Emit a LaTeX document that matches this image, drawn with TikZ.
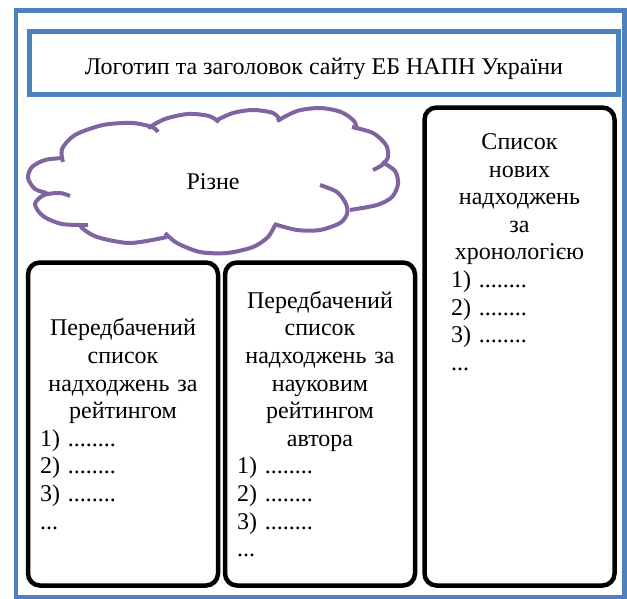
\documentclass[tikz,border=0pt]{standalone}
\usepackage{fontspec}
\setmainfont{Liberation Serif}
\usepackage{tikz}
\usetikzlibrary{positioning}
\definecolor{blue1}{RGB}{79,129,189}
\definecolor{purple1}{RGB}{128,100,162}
\tikzstyle{pageframe} = [draw=blue1, line width=4.5pt]
\tikzstyle{headbox} = [draw=blue1, fill=white, line width=4.5pt, outer sep=0pt, minimum width=589pt, minimum height=63pt, text height=27pt, text depth=4pt]
\tikzstyle{column} = [draw=black, line width=4.5pt, rounded corners=12pt, outer sep=0pt, inner sep=0pt, minimum width=190pt]
\tikzstyle{listtext} = [inner sep=0pt, text width=166pt]
\tikzstyle{puff} = [draw=purple1, line width=4pt]

\begin{document}
\begin{tikzpicture}[x=1pt, y=-1pt, font=\fontsize{24}{27.6}\selectfont]
    \useasboundingbox (0,0) rectangle (627,598);
    \draw[pageframe] (16,10.5) rectangle (624.5,597);

    \node[headbox] (head) at (324,63) {Логотип та заголовок сайту ЕБ НАПН України};

    % cloud
    \draw[puff] plot[smooth] coordinates {(63,162) (62,149) (75,135) (103,125) (132,123) (152,127) (158,132)};
    \draw[puff] plot[smooth] coordinates {(148,128) (165,119) (188,114) (209,116) (219,122)};
    \draw[puff] plot[smooth] coordinates {(215,121) (233,113) (253,110) (273,113) (281,121)};
    \draw[puff] plot[smooth] coordinates {(277,121) (297,111) (320,108) (341,112) (354,121) (357,130)};
    \draw[puff] plot[smooth] coordinates {(352,127) (373,133) (386,145) (388,157) (382,165) (373,170)};
    \draw[puff] plot[smooth] coordinates {(382,162) (395,171) (398,184) (392,197) (377,205) (350,210)};
    \draw[puff] plot[smooth] coordinates {(320,185) (337,192) (346,204) (347,214) (340,223) (320,230) (297,230) (274,224)};
    \draw[puff] plot[smooth] coordinates {(275,225) (268,237) (253,247) (227,253) (200,252) (177,243) (165,233)};
    \draw[puff] plot[smooth] coordinates {(167,237) (130,243) (97,237) (82,228) (80,224)};
    \draw[puff] plot[smooth] coordinates {(88,225) (62,224) (43,216) (35,204) (44,195) (60,193) (70,196)};
    \draw[puff] plot[smooth] coordinates {(47,193) (35,189) (28,178) (32,167) (45,160) (63,158)};
    \node (misc) at (213,182) {Різне};

    % columns
    \node[column, minimum height=323pt, text width=166pt] (col1) at (123,424)
        {{\centering Передбачений\\ список\\ надходжень за\\ рейтингом\par}
         1) ........\\ 2) ........\\ 3) ........\\ ...};
    \node[column, minimum height=323pt, text width=166pt, right=7pt of col1] (col2)
        {{\centering Передбачений\\ список\\ надходжень за\\ науковим\\ рейтингом\\ автора\par}
         1) ........\\ 2) ........\\ 3) ........\\ ...};
    \node[column, minimum height=478pt, anchor=south west] (col3) at (424.5,585.5) {};
    \node[listtext, text width=137pt, below=26pt of col3.north] (col3text)
        {{\centering Список\\ нових\\ надходжень\\ за\\ хронологією\par}
         1) ........\\ 2) ........\\ 3) ........\\ ...};
\end{tikzpicture}
\end{document}
